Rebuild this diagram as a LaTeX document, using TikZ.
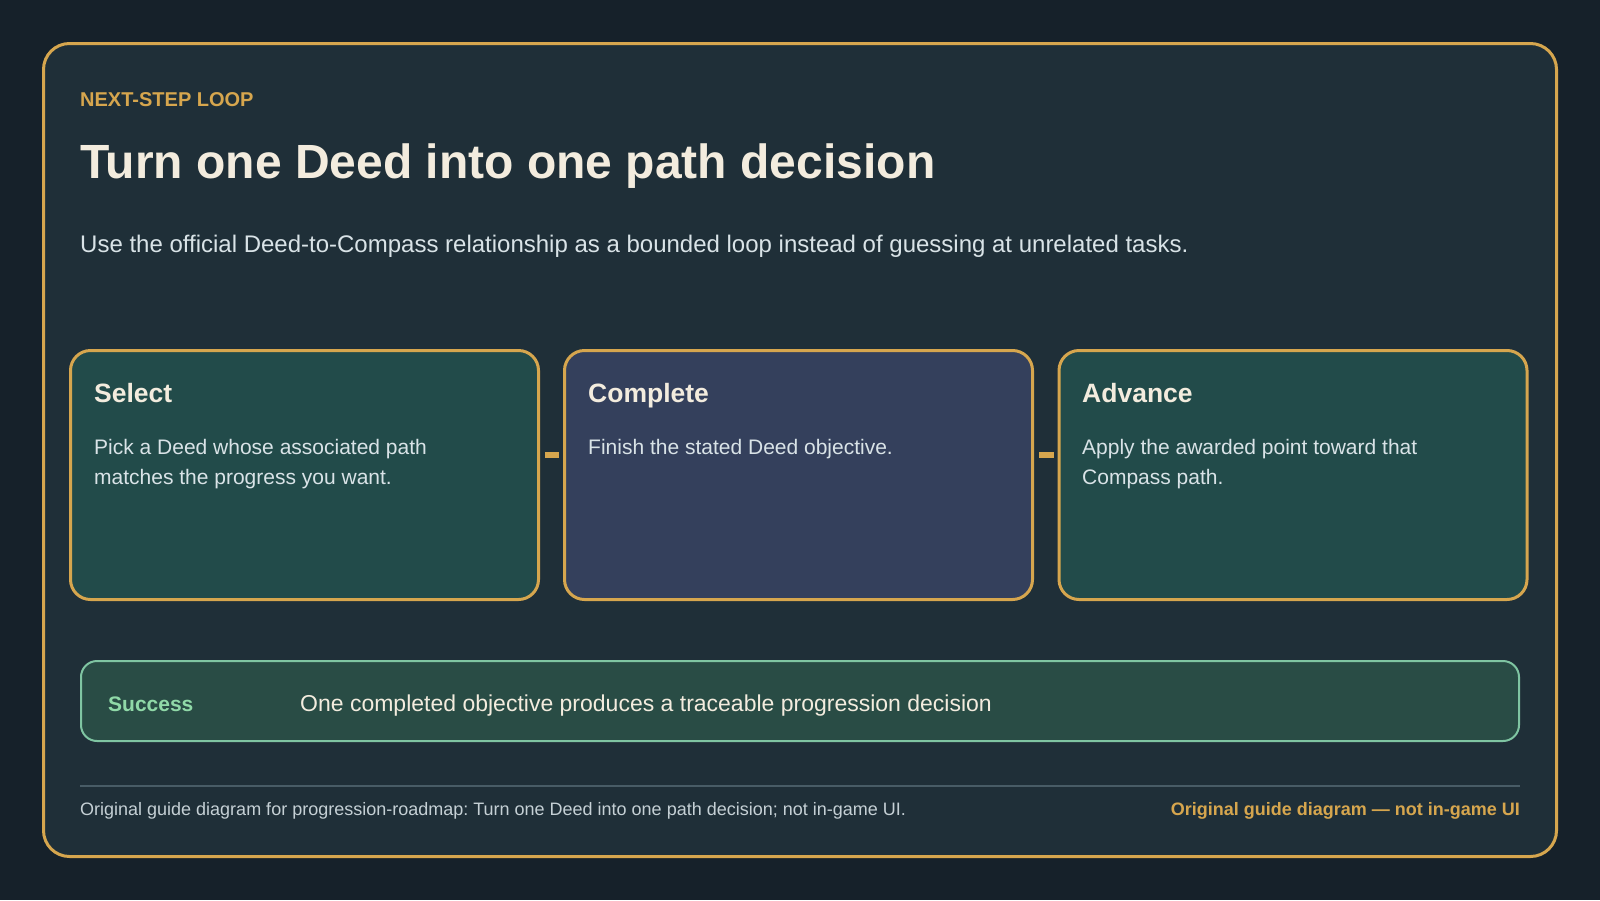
\documentclass[tikz,border=0pt]{standalone}
\usepackage{fontspec}
\setmainfont{Liberation Sans}
\frenchspacing
\definecolor{bgdark}{HTML}{16212A}
\definecolor{panel}{HTML}{1F2F38}
\definecolor{gold}{HTML}{D6A64E}
\definecolor{cream}{HTML}{F3ECDE}
\definecolor{mist}{HTML}{D9E3E7}
\definecolor{selfill}{HTML}{224B4A}
\definecolor{cmpfill}{HTML}{34405C}
\definecolor{winfill}{HTML}{294C45}
\definecolor{winline}{HTML}{7FC5A2}
\definecolor{wintext}{HTML}{90D9A8}
\definecolor{rulegray}{HTML}{485C66}
\definecolor{footgray}{HTML}{C5D0D5}

\begin{document}
\begin{tikzpicture}[x=1pt,y=-1pt,
    card/.style={draw=gold, line width=3pt, rounded corners=20pt,
                 minimum width=468pt, minimum height=249pt, inner sep=0pt},
    cardhead/.style={anchor=base west, inner sep=0pt, text=cream,
                     font=\fontsize{26.5}{30}\selectfont\bfseries},
    cardbody/.style={anchor=north west, inner sep=0pt, text=mist, align=left,
                     font=\fontsize{21}{30}\selectfont},
    link/.style={gold, line width=6pt},
    goal/.style={draw=winline, line width=2pt, fill=winfill, rounded corners=16pt,
                 minimum width=1438pt, minimum height=80pt, inner sep=0pt}]
    \fill [bgdark] (0,0) rectangle (1600,900);
    \draw [gold, line width=3pt, fill=panel, rounded corners=26pt] (43.5,43.5) rectangle (1556.5,856.5);
    \node [anchor=base west, inner sep=0pt, text=gold, font=\fontsize{20}{24}\selectfont\bfseries] (kicker) at (80,106) {NEXT-STEP LOOP};
    \node [anchor=base west, inner sep=0pt, text=cream, font=\fontsize{48}{56}\selectfont\bfseries] (title) at (80,178) {Turn one Deed into one path decision};
    \node [anchor=base west, inner sep=0pt, text=mist, font=\fontsize{24}{28}\selectfont] (subtitle) at (80,252) {Use the official Deed-to-Compass relationship as a bounded loop instead of guessing at unrelated tasks.};
    \node [card, fill=selfill] (sel) at (304.5,475) {};
    \node [card, fill=cmpfill] (cmp) at (798.5,475) {};
    \node [card, fill=selfill] (adv) at (1293,475) {};
    \node [cardhead] (selhead) at (94,402) {Select};
    \node [cardbody] (selbody) at (94,439) {Pick a Deed whose associated path\\matches the progress you want.};
    \node [cardhead] (cmphead) at (588,402) {Complete};
    \node [cardbody] (cmpbody) at (588,439) {Finish the stated Deed objective.};
    \node [cardhead] (advhead) at (1082,402) {Advance};
    \node [cardbody] (advbody) at (1082,439) {Apply the awarded point toward that\\Compass path.};
    \draw [link] ([shift={(5,-20)}]sel.east) -- ([shift={(-4,-20)}]cmp.west);
    \draw [link] ([shift={(5,-20)}]cmp.east) -- ([shift={(-4,-20)}]adv.west);
    \node [goal] (win) at (800,701) {};
    \node [anchor=base west, inner sep=0pt, text=wintext, font=\fontsize{21}{24}\selectfont\bfseries] (winlabel) at (108,711) {Success};
    \node [anchor=base west, inner sep=0pt, text=cream, font=\fontsize{23}{26}\selectfont] (wintext) at (300,711) {One completed objective produces a traceable progression decision};
    \coordinate (ruleL) at (80,786);
    \coordinate (ruleR) at (1520,786);
    \draw [rulegray, line width=2pt] (ruleL) -- (ruleR);
    \node [anchor=base west, inner sep=0pt, text=footgray, font=\fontsize{18}{22}\selectfont] (foot) at (80,815) {Original guide diagram for progression-roadmap: Turn one Deed into one path decision; not in-game UI.};
    \node [anchor=base east, inner sep=0pt, text=gold, font=\fontsize{18}{22}\selectfont\bfseries] (footmark) at (1520,815) {Original guide diagram — not in-game UI};
\end{tikzpicture}
\end{document}
